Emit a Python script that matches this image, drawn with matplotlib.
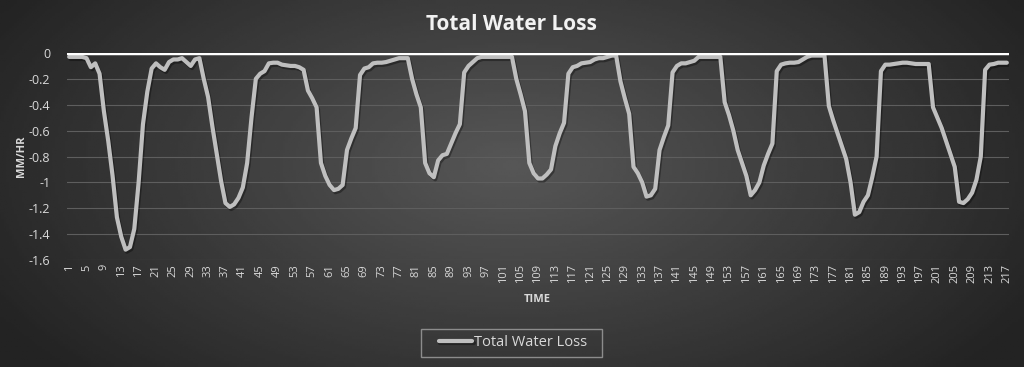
import numpy as np
import matplotlib
matplotlib.use("Agg")
import matplotlib.pyplot as plt
import matplotlib.patheffects as pe
from matplotlib.patches import Rectangle

# water loss per time step (mm/hr)
loss = [
    -0.03, -0.03, -0.03, -0.03, -0.04, -0.11, -0.08, -0.16, -0.45, -0.68,
    -0.95, -1.27, -1.42, -1.52, -1.50, -1.36, -1.00, -0.55, -0.30, -0.12,
    -0.08, -0.11, -0.13, -0.07, -0.05, -0.05, -0.04, -0.07, -0.10, -0.05,
    -0.04, -0.20, -0.34, -0.57, -0.78, -0.99, -1.16, -1.19, -1.17, -1.12,
    -1.04, -0.85, -0.50, -0.20, -0.16, -0.14, -0.08, -0.075, -0.075, -0.09,
    -0.095, -0.10, -0.10, -0.11, -0.13, -0.29, -0.35, -0.42, -0.85, -0.95,
    -1.02, -1.06, -1.05, -1.02, -0.75, -0.66, -0.58, -0.17, -0.12, -0.11,
    -0.08, -0.075, -0.075, -0.07, -0.06, -0.05, -0.04, -0.04, -0.04, -0.20,
    -0.32, -0.42, -0.85, -0.93, -0.96, -0.83, -0.79, -0.78, -0.70, -0.62,
    -0.55, -0.15, -0.10, -0.07, -0.04, -0.03, -0.03, -0.03, -0.03, -0.03,
    -0.03, -0.03, -0.03, -0.20, -0.32, -0.45, -0.85, -0.93, -0.97, -0.97,
    -0.94, -0.90, -0.72, -0.62, -0.54, -0.16, -0.11, -0.10, -0.08, -0.075,
    -0.07, -0.05, -0.04, -0.04, -0.03, -0.02, -0.02, -0.22, -0.35, -0.47,
    -0.88, -0.93, -1.00, -1.11, -1.10, -1.05, -0.75, -0.65, -0.56, -0.15,
    -0.10, -0.08, -0.08, -0.07, -0.06, -0.03, -0.03, -0.03, -0.03, -0.03,
    -0.03, -0.38, -0.48, -0.60, -0.75, -0.85, -0.95, -1.10, -1.06, -1.00,
    -0.87, -0.78, -0.70, -0.14, -0.09, -0.08, -0.075, -0.075, -0.07, -0.05,
    -0.03, -0.02, -0.02, -0.02, -0.02, -0.41, -0.52, -0.62, -0.72, -0.82,
    -1.00, -1.25, -1.23, -1.15, -1.10, -0.96, -0.80, -0.14, -0.09, -0.09,
    -0.085, -0.08, -0.075, -0.075, -0.08, -0.085, -0.085, -0.085, -0.085, -0.42,
    -0.50, -0.58, -0.68, -0.78, -0.88, -1.15, -1.16, -1.13, -1.08, -0.98,
    -0.80, -0.13, -0.09, -0.085, -0.075, -0.075, -0.075,
]
time = list(range(1, len(loss) + 1))
time_labels = [str(t) for t in time[::4]]
y_ticks = [0, -0.2, -0.4, -0.6, -0.8, -1, -1.2, -1.4, -1.6]

plt.rcParams['font.family'] = ['Open Sans', 'DejaVu Sans']

fig = plt.figure(figsize=(10.24, 3.67), dpi=100)

# radial grey background
bg = fig.add_axes([0, 0, 1, 1], zorder=-10)
gx, gy = np.meshgrid(np.linspace(0, 1, 400), np.linspace(0, 1, 150))
r = np.sqrt(((gx - 0.5) / 0.75) ** 2 + ((gy - 0.45) / 1.1) ** 2)
shade = np.clip(0.34 - 0.26 * r, 0.14, 0.35)
bg.imshow(shade, cmap='gray', vmin=0, vmax=1, aspect='auto', extent=[0, 1, 0, 1])
bg.axis('off')

ax = fig.add_axes([67 / 1024, 1 - 260 / 367, 942 / 1024, 207 / 367])
ax.set_facecolor('none')
ax.plot(time, loss, color='#bfbfbf', lw=3, solid_joinstyle='round',
        solid_capstyle='round', label='Total Water Loss', zorder=3,
        path_effects=[pe.SimpleLineShadow(offset=(1, -1.5), alpha=0.35), pe.Normal()])
ax.axhline(0, color='white', lw=2.5, zorder=4)

ax.set_xlim(0.5, len(loss) + 0.5)
ax.set_ylim(-1.6, 0)
ax.set_yticks(y_ticks)
ax.set_yticklabels(['0', '-0.2', '-0.4', '-0.6', '-0.8', '-1', '-1.2', '-1.4', '-1.6'])
ax.set_xticks(time[::4])
ax.set_xticklabels(time_labels, rotation=90)
ax.tick_params(axis='x', length=0, labelsize=8, colors='#d9d9d9', pad=3)
ax.tick_params(axis='y', length=0, labelsize=9, colors='#d9d9d9', pad=12)
ax.grid(axis='y', color='#5e5e5e', lw=0.8)
for s in ax.spines.values():
    s.set_visible(False)

ax.set_ylabel('MM/HR', color='#d9d9d9', fontsize=8, fontweight='bold', labelpad=1)
fig.text(537 / 1024, 1 - 299 / 367, 'TIME', color='#d9d9d9', fontsize=8,
         fontweight='bold', ha='center', va='center')
fig.text(511 / 1024, 1 - 25 / 367, 'Total Water Loss', color='#f2f2f2',
         fontsize=15, fontweight='bold', ha='center', va='center')

leg = fig.legend(loc='center', bbox_to_anchor=(513 / 1024, 1 - 343 / 367),
                 frameon=False, fontsize=10.5, handlelength=2.3, handletextpad=0.1)
for t in leg.get_texts():
    t.set_color('#d9d9d9')
fig.add_artist(Rectangle((421 / 1024, 1 - 357 / 367), 181 / 1024, 28 / 367,
                         transform=fig.transFigure, fill=False,
                         edgecolor='#8c8c8c', lw=1))

fig.savefig('out.png', dpi=100)
